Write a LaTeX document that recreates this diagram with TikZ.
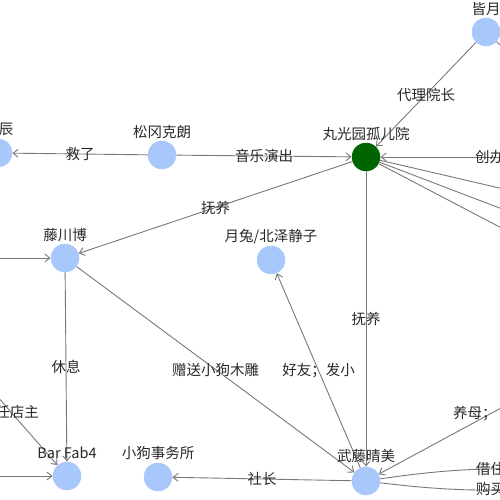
\documentclass[tikz,border=0pt]{standalone}
\usepackage{fontspec}
\setmainfont{Noto Sans CJK SC}
\usetikzlibrary{arrows.meta}
\definecolor{nodeblue}{RGB}{168,200,252}
\definecolor{hubgreen}{RGB}{0,100,0}
\definecolor{edgegray}{RGB}{120,120,120}
\definecolor{txt}{RGB}{40,40,40}
\begin{document}
\begin{tikzpicture}[x=1pt,y=-1pt,
  ent/.style={circle,fill=nodeblue,minimum size=28.5pt,inner sep=0pt},
  hub/.style={circle,fill=hubgreen,minimum size=28.5pt,inner sep=0pt},
  nlabel/.style={text=txt,font=\fontsize{14.5}{16}\selectfont,inner sep=0pt},
  elabel/.style={text=txt,font=\fontsize{14.5}{16}\selectfont,inner sep=0pt},
  rel/.style={draw=edgegray,line width=0.9pt,-{Straight Barb[length=5pt,width=8pt]}},
  plain/.style={draw=edgegray,line width=0.9pt}
]
\useasboundingbox (0,0) rectangle (500,500);
\clip (0,0) rectangle (500,500);

% nodes
\node[hub] (gy) at (366,157) {};
\node[ent] (hy) at (486,32) {};
\node[ent] (sg) at (162,155) {};
\node[ent] (chen) at (-2,153) {};
\node[ent] (tc) at (65,258) {};
\node[ent] (yt) at (271,260) {};
\node[ent] (bar) at (67,476) {};
\node[ent] (xg) at (158,477) {};
\node[ent] (wt) at (366,481) {};

% off-screen ends
\coordinate (hyOut) at (560,100);
\coordinate (cb) at (620,157);
\coordinate (r1) at (620,216);
\coordinate (r2) at (620,254);
\coordinate (r3) at (620,290);
\coordinate (lt) at (-80,258);
\coordinate (lb) at (-80,476);
\coordinate (ld) at (-47,346);
\coordinate (ym) at (614,347);
\coordinate (jz) at (612,478);

% edges
\draw[rel] (hy) -- node[elabel]{代理院长} (gy);
\draw[plain] (hy) -- (hyOut);
\draw[rel] (sg) -- node[elabel]{音乐演出} (gy);
\draw[rel] (sg) -- node[elabel]{救了} (chen);
\draw[rel] (cb) -- (gy);
\draw[plain] (gy) -- (r1);
\draw[plain] (gy) -- (r2);
\draw[plain] (gy) -- (r3);
\draw[rel] (gy) -- node[elabel]{抚养} (tc);
\draw[rel] (gy) -- node[elabel]{抚养} (wt);
\draw[rel] (lt) -- (tc);
\draw[rel] (lb) -- (bar);
\draw[rel] (ld) -- (bar);
\draw[rel] (tc) -- node[elabel]{休息} (bar);
\draw[rel] (tc) -- node[elabel]{赠送小狗木雕} (wt);
\draw[rel] (wt) -- node[elabel]{好友；发小} (yt);
\draw[rel] (wt) -- node[elabel]{社长} (xg);
\draw[rel] (ym) -- (wt);
\draw[plain] (wt) to[bend left=8] (jz);
\draw[plain] (wt) to[bend right=8] (jz);

% node labels
\node[nlabel] (gyL) at (366,134) {丸光园孤儿院};
\node[nlabel] (hyL) at (486,9) {皆月};
\node[nlabel] (sgL) at (162,132) {松冈克朗};
\node[nlabel] (chenL) at (6,129) {辰};
\node[nlabel] (tcL) at (65,235) {藤川博};
\node[nlabel] (ytL) at (271,237) {月兔/北泽静子};
\node[nlabel] (barL) at (67,453) {Bar Fab4};
\node[nlabel] (xgL) at (158,453) {小狗事务所};
\node[nlabel] (wtL) at (366,456) {武藤晴美};

% partial edge labels at the borders
\node[elabel,anchor=west] (cbL) at (475,157) {创办};
\node[elabel,anchor=east] (dzL) at (39,412) {任店主};
\node[elabel,anchor=west] (ymL) at (453,414) {养母；};
\node[elabel,anchor=west] (jzL) at (476,469) {借住};
\node[elabel,anchor=west] (gmL) at (476,489) {购买};
\end{tikzpicture}
\end{document}
